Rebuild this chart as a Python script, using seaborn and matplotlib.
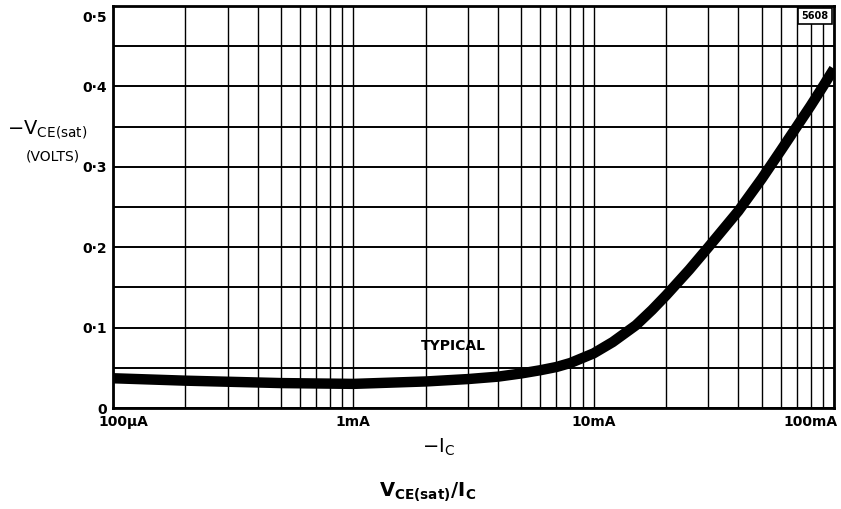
import numpy as np
import pandas as pd
import matplotlib
matplotlib.use("Agg")
import matplotlib.pyplot as plt
import matplotlib.transforms as mtransforms
from matplotlib.ticker import FixedLocator, LogLocator, MultipleLocator, NullFormatter
import seaborn as sns

# ---- data ----
current_ma = [0.1, 0.2, 0.5, 1, 2, 3, 4, 5, 6, 7, 8, 10, 12, 15, 17.5, 20, 25,
              30, 40, 50, 60, 70, 80, 90, 100]
vce_sat = [0.037, 0.034, 0.031, 0.030, 0.033, 0.036, 0.039, 0.043, 0.047, 0.051,
           0.056, 0.068, 0.082, 0.103, 0.122, 0.140, 0.172, 0.200, 0.245, 0.285,
           0.320, 0.350, 0.376, 0.400, 0.422]
x_tick_values = [0.1, 1, 10, 100]
x_tick_labels = ["100µA", "1mA", "10mA", "100mA"]
y_tick_values = [0, 0.1, 0.2, 0.3, 0.4, 0.5]
y_tick_labels = ["0", "0·1", "0·2", "0·3", "0·4", "0·5"]

sns.set_style("white")
plt.rcParams['font.family'] = ['DejaVu Sans']
plt.rcParams['mathtext.default'] = 'regular'
plt.rcParams['text.color'] = 'black'

W, H = 841, 509
fig = plt.figure(figsize=(W / 100, H / 100), dpi=100)
ax = fig.add_axes([113 / W, 1 - 408 / H, 721 / W, 402 / H])

df = pd.DataFrame({"I": current_ma, "V": vce_sat})
sns.lineplot(data=df, x="I", y="V", ax=ax, color="black", linewidth=7.5,
             solid_joinstyle="round", solid_capstyle="butt", zorder=5)

ax.set_xscale("log")
ax.set_xlim(0.1, 100)
ax.set_ylim(0, 0.5)

ax.xaxis.set_major_locator(FixedLocator(x_tick_values))
ax.xaxis.set_minor_locator(LogLocator(base=10, subs=range(2, 10), numticks=20))
ax.xaxis.set_minor_formatter(NullFormatter())
ax.set_xticks(x_tick_values)
ax.set_xticklabels(x_tick_labels, fontsize=10, fontweight="bold", color="black")
ax.set_yticks(y_tick_values)
ax.set_yticklabels(y_tick_labels, fontsize=10, fontweight="bold", color="black")
ax.yaxis.set_minor_locator(MultipleLocator(0.05))

ax.grid(True, which="both", axis="x", color="black", linewidth=1.0)
ax.grid(True, which="both", axis="y", color="black", linewidth=1.4)
ax.tick_params(axis="x", which="both", length=0, pad=5, colors="black")
ax.tick_params(axis="y", which="major", length=3, width=1.3, pad=1.5, colors="black")
ax.tick_params(axis="y", which="minor", length=0)
ax.set_xlabel("")
ax.set_ylabel("")

for sp in ax.spines.values():
    sp.set_visible(True)
    sp.set_color("black")
    sp.set_linewidth(2.0)

# shift some tick labels like the reference
fig.canvas.draw()
labels = ax.get_xticklabels()
labels[0].set_ha("left")
labels[0].set_transform(labels[0].get_transform() +
                        mtransforms.ScaledTranslation(-15 / 100, 0, fig.dpi_scale_trans))
labels[-1].set_ha("right")
labels[-1].set_transform(labels[-1].get_transform() +
                         mtransforms.ScaledTranslation(4 / 100, 0, fig.dpi_scale_trans))
ylabels = ax.get_yticklabels()
ylabels[-1].set_transform(ylabels[-1].get_transform() +
                          mtransforms.ScaledTranslation(0, -10 / 100, fig.dpi_scale_trans))

ax.text(2.6, 0.077, "TYPICAL", ha="center", va="center", fontsize=10,
        fontweight="bold", color="black", zorder=6)

ax.text((815 - 113) / 721, (408 - 16) / 402, "5608", transform=ax.transAxes,
        ha="center", va="center", fontsize=7, fontweight="bold", color="black", zorder=7,
        bbox=dict(boxstyle="square,pad=0.35", facecolor="white",
                  edgecolor="black", linewidth=1.2))

fig.text(7 / W, 1 - 130 / H, r"$-V_{CE(sat)}$", ha="left", va="center",
         fontsize=14, color="black")
fig.text(53 / W, 1 - 157 / H, "(VOLTS)", ha="center", va="center",
         fontsize=10, color="black")
fig.text(439 / W, 1 - 447 / H, r"$-I_C$", ha="center", va="center",
         fontsize=14, color="black")
fig.text(428 / W, 1 - 492 / H, r"$\mathbf{V_{CE(sat)}/I_C}$", ha="center",
         va="center", fontsize=14, color="black")

fig.savefig("out.png", dpi=100, facecolor="white")
